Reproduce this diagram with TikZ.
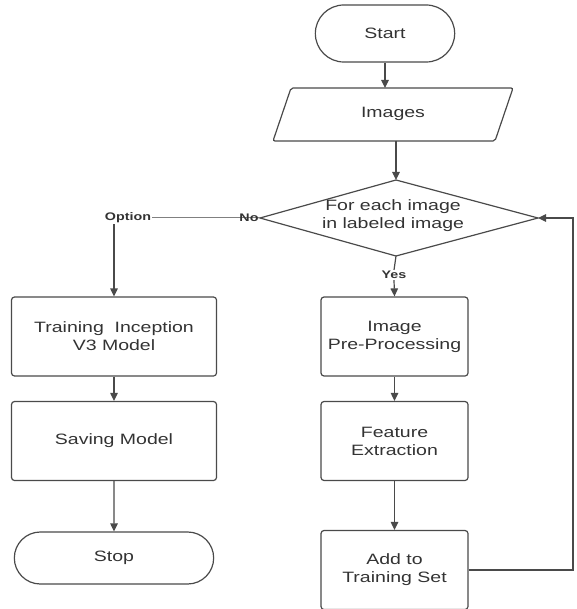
\documentclass[tikz,border=0pt]{standalone}
\usepackage{fontspec}
\setmainfont{Liberation Sans}[FakeStretch=1.3]
\usetikzlibrary{arrows.meta,shapes.misc}
\definecolor{linec}{HTML}{4A4A4A}
\definecolor{textc}{HTML}{333333}
\begin{document}
\begin{tikzpicture}[x=1pt,y=-1pt,
  line/.style={draw=linec, line width=1.2pt},
  arr/.style={line, -{Triangle[width=7.5pt,length=8pt]}},
  txt/.style={text=textc, font=\fontsize{15}{18}\selectfont, align=center},
  lbl/.style={text=textc, font=\fontsize{11}{13}\selectfont\bfseries, inner sep=1pt},
  lbox/.style={txt, line, rounded corners=3pt, minimum width=205pt, minimum height=79pt},
  rbox/.style={txt, line, rounded corners=3pt, minimum width=147pt, minimum height=79pt},
  term/.style={txt, line, rounded rectangle}]
\useasboundingbox (0,0) rectangle (576,609);
% terminals
\node[term, minimum width=146pt, minimum height=57pt] (start) at (385,33.5) {Start};
\node[term, minimum width=206pt, minimum height=52pt] (stop) at (114,558) {Stop};
% input parallelogram
\coordinate (p1) at (291,88);
\coordinate (p2) at (513,88);
\coordinate (p3) at (495,141);
\coordinate (p4) at (273,141);
\draw[line, rounded corners=2pt] (p1) -- (p2) -- (p3) -- (p4) -- cycle;
\node[txt] (images) at (393,114) {Images};
\coordinate (imgT) at (385,88);
\coordinate (imgB) at (396,141);
% decision diamond
\coordinate (dT) at (396,180);
\coordinate (dR) at (538,218);
\coordinate (dB) at (396,256);
\coordinate (dL) at (260,218);
\draw[line] (dT) -- (dR) -- (dB) -- (dL) -- cycle;
\node[txt] (dec) at (393,216) {For each image\\in labeled image};
% process boxes
\node[lbox] (train) at (114,336.5) {Training\ \ Inception\\V3 Model};
\node[lbox] (save) at (114,441) {Saving Model};
\node[rbox] (pre) at (394.5,336.5) {Image\\Pre-Processing};
\node[rbox] (feat) at (394.5,441) {Feature\\Extraction};
\node[rbox] (add) at (394.5,570) {Add to\\Training Set};
% labels
\node[lbl] (opt) at (128,218) {Option};
\node[lbl] (yes) at (394,275) {Yes};
% connectors
\draw[arr] (start.south) -- (imgT);
\draw[arr] (imgB) -- (dT);
\draw[draw=linec!70, line width=1pt] (opt.east) -- (dL);
\node[lbl] (no) at (249,218) {No};
\draw[arr] (train.north |- opt.south) -- (train.north);
\draw[line] (dB) -- (yes.north);
\draw[arr] (yes.south) -- (pre.north);
\draw[arr] (train) -- (save);
\draw[arr] (save) -- (stop);
\draw[arr] (pre) -- (feat);
\draw[arr] (feat) -- (add);
\coordinate (loopB) at (573,570);
\coordinate (loopT) at (573,218);
\draw[arr] (add.east) -- (loopB) -- (loopT) -- (dR);
\end{tikzpicture}
\end{document}
